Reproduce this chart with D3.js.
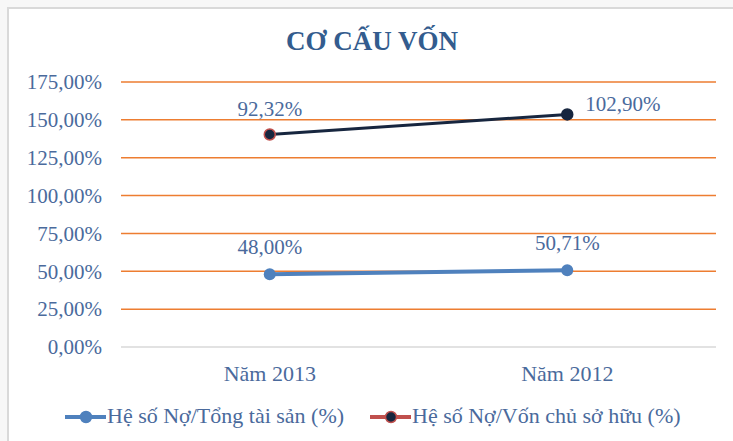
<!DOCTYPE html>
<meta charset="utf-8">
<style>
  body { margin: 0; background: #f7f7f7; }
</style>
<div id="chart_div"></div>
<script src="https://d3js.org/d3.v7.min.js"></script>
<script>

// data
let categories = ["Năm 2013", "Năm 2012"];
let no_tong_ts = [48.00, 50.71];        // Hệ số Nợ/Tổng tài sản (%)
let no_von_csh = [92.32, 102.90];       // Hệ số Nợ/Vốn chủ sở hữu (%)
let y_ticks = [0, 25, 50, 75, 100, 125, 150, 175];
let series_names = ["Hệ số Nợ/Tổng tài sản (%)", "Hệ số Nợ/Vốn chủ sở hữu (%)"];

// stacked line: second series sits on top of the first
let stacked_2 = no_von_csh.map(function(v, i){ return v + no_tong_ts[i] });

let width = 733, height = 441;
let margin = {top: 82, right: 17, bottom: 94, left: 121};
let plot_w = width - margin.left - margin.right,
    plot_h = height - margin.top - margin.bottom;

let fmt = function(v){ return v.toFixed(2).replace(".", ",") + "%" };
let label_color = "#4a6a9c";
let serif = "'Liberation Serif', 'Times New Roman', serif";

let svg = d3.select("#chart_div")
  .append("svg")
    .attr("width", width)
    .attr("height", height);

// chart frame
svg.append("rect")
  .attr("x", 8).attr("y", 8)
  .attr("width", width).attr("height", height)
  .attr("fill", "#fff")
  .attr("stroke", "#d9d9d9")
  .attr("stroke-width", 2);

// title
svg.append("text")
  .attr("x", 372).attr("y", 50)
  .attr("text-anchor", "middle")
  .style("font-family", serif)
  .attr("font-size", 27)
  .attr("font-weight", "bold")
  .attr("fill", "#335c8e")
  .text("CƠ CẤU VỐN");

let g = svg.append("g")
  .attr("transform", "translate(" + margin.left + "," + margin.top + ")");

let x = d3.scaleBand().domain(categories).range([0, plot_w]);
let y = d3.scaleLinear().domain([0, 175]).range([plot_h, 0]);
let cx = function(c){ return x(c) + x.bandwidth() / 2 };

// grid lines
g.selectAll(".grid")
  .data(y_ticks)
  .enter()
  .append("line")
    .attr("x1", 0).attr("x2", plot_w)
    .attr("y1", function(d){ return y(d) })
    .attr("y2", function(d){ return y(d) })
    .attr("stroke", function(d){ return d === 0 ? "#d9d9d9" : "#ed7d31" })
    .attr("stroke-width", 1.5);

// y axis labels
let y_axis = g.append("g")
  .call(d3.axisLeft(y).tickValues(y_ticks).tickFormat(fmt).tickSize(0).tickPadding(19));
y_axis.select(".domain").remove();
y_axis.selectAll("text")
  .style("font-family", serif)
  .attr("font-size", 21)
  .attr("fill", label_color);

// x axis labels
let x_axis = g.append("g")
  .attr("transform", "translate(0," + plot_h + ")")
  .call(d3.axisBottom(x).tickSize(0).tickPadding(18));
x_axis.select(".domain").remove();
x_axis.selectAll("text")
  .style("font-family", serif)
  .attr("font-size", 22)
  .attr("fill", label_color);

let line = d3.line()
  .x(function(d){ return cx(d.c) })
  .y(function(d){ return y(d.v) });

let pts_1 = categories.map(function(c, i){ return {c: c, v: no_tong_ts[i], raw: no_tong_ts[i]} });
let pts_2 = categories.map(function(c, i){ return {c: c, v: stacked_2[i], raw: no_von_csh[i]} });

// series 1
g.append("path")
  .datum(pts_1)
  .attr("d", line)
  .attr("fill", "none")
  .attr("stroke", "#4f81bd")
  .attr("stroke-width", 4);
g.selectAll(".pt1")
  .data(pts_1)
  .enter()
  .append("circle")
    .attr("cx", function(d){ return cx(d.c) })
    .attr("cy", function(d){ return y(d.v) })
    .attr("r", 6)
    .attr("fill", "#4f81bd");

// series 2
g.append("path")
  .datum(pts_2)
  .attr("d", line)
  .attr("fill", "none")
  .attr("stroke", "#17263f")
  .attr("stroke-width", 3);
g.selectAll(".pt2")
  .data(pts_2)
  .enter()
  .append("circle")
    .attr("cx", function(d){ return cx(d.c) })
    .attr("cy", function(d){ return y(d.v) })
    .attr("r", 5.5)
    .attr("fill", "#17263f")
    .attr("stroke", function(d, i){ return i === 0 ? "#c0504d" : "#17263f" })
    .attr("stroke-width", 1.5);

// data labels
g.selectAll(".lbl1")
  .data(pts_1)
  .enter()
  .append("text")
    .attr("x", function(d){ return cx(d.c) })
    .attr("y", function(d){ return y(d.v) - 20 })
    .attr("text-anchor", "middle")
    .style("font-family", serif)
    .attr("font-size", 21)
    .attr("fill", label_color)
    .text(function(d){ return fmt(d.raw) });

g.selectAll(".lbl2")
  .data(pts_2)
  .enter()
  .append("text")
    .attr("x", function(d, i){ return i === 0 ? cx(d.c) : cx(d.c) + 18 })
    .attr("y", function(d, i){ return i === 0 ? y(d.v) - 19 : y(d.v) - 3 })
    .attr("text-anchor", function(d, i){ return i === 0 ? "middle" : "start" })
    .style("font-family", serif)
    .attr("font-size", 21)
    .attr("fill", label_color)
    .text(function(d){ return fmt(d.raw) });

// legend
let legend = svg.append("g").attr("transform", "translate(0,417)");
let leg_items = [
  {name: series_names[0], x: 65, line: "#4f81bd", fill: "#4f81bd", stroke: "#4f81bd"},
  {name: series_names[1], x: 370, line: "#c0504d", fill: "#17263f", stroke: "#c0504d"}
];
let leg = legend.selectAll(".leg")
  .data(leg_items)
  .enter()
  .append("g")
    .attr("transform", function(d){ return "translate(" + d.x + ",0)" });
leg.append("line")
  .attr("x1", 0).attr("x2", 41)
  .attr("stroke", function(d){ return d.line })
  .attr("stroke-width", 4);
leg.append("circle")
  .attr("cx", 21).attr("r", 5.5)
  .attr("fill", function(d){ return d.fill })
  .attr("stroke", function(d){ return d.stroke })
  .attr("stroke-width", 1.5);
leg.append("text")
  .attr("x", 42).attr("y", 6)
  .style("font-family", serif)
  .attr("font-size", 22)
  .attr("fill", label_color)
  .text(function(d){ return d.name });

</script>
